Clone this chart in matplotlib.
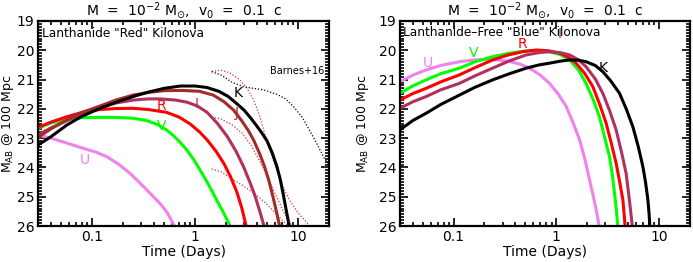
import matplotlib
matplotlib.use("Agg")
import matplotlib.pyplot as plt
from matplotlib.ticker import MultipleLocator, LogLocator, NullFormatter

# band names and colours
bands = ['U', 'V', 'R', 'I', 'J', 'K']
band_colors = {'U': '#EE82EE', 'V': '#00FF00', 'R': '#FF0000',
               'I': '#B03060', 'J': '#A52A2A', 'K': '#000000'}

# Lanthanide "red" kilonova (days, AB mag at 100 Mpc)
red_t = {
    'U': [0.03, 0.04, 0.055, 0.083, 0.11, 0.139, 0.18, 0.234, 0.29, 0.366, 0.45, 0.53, 0.58, 0.63],
    'V': [0.03, 0.04, 0.057, 0.08, 0.11, 0.17, 0.25, 0.34, 0.43, 0.53, 0.62, 0.72, 0.83, 0.97,
          1.12, 1.3, 1.5, 1.7, 1.9, 2.05, 2.19],
    'R': [0.03, 0.04, 0.057, 0.08, 0.12, 0.17, 0.25, 0.35, 0.53, 0.7, 0.9, 1.1, 1.31, 1.6, 1.9,
          2.2, 2.55, 2.85, 3.13],
    'I': [0.03, 0.04, 0.057, 0.08, 0.12, 0.17, 0.25, 0.35, 0.46, 0.65, 0.83, 1.05, 1.31, 1.65,
          2.06, 2.5, 2.95, 3.4, 3.8, 4.25, 4.67],
    'J': [0.03, 0.04, 0.057, 0.08, 0.12, 0.17, 0.25, 0.35, 0.5, 0.75, 1.1, 1.5, 1.9, 2.36, 2.8,
          3.3, 3.69, 4.2, 4.7, 5.2, 5.7, 6.2, 6.6],
    'K': [0.03, 0.04, 0.057, 0.08, 0.12, 0.17, 0.25, 0.35, 0.5, 0.72, 1.0, 1.3, 1.7, 2.1, 2.5,
          3.0, 3.5, 4.0, 4.5, 5.0, 5.6, 6.2, 6.7, 7.2, 7.7, 8.2],
}
red_mag = {
    'U': [22.89, 23.0, 23.15, 23.35, 23.48, 23.63, 23.88, 24.2, 24.52, 24.88, 25.2, 25.51, 25.75, 26.0],
    'V': [22.66, 22.48, 22.36, 22.3, 22.29, 22.29, 22.32, 22.4, 22.53, 22.72, 22.92, 23.15, 23.4, 23.73,
          24.09, 24.48, 24.88, 25.25, 25.56, 25.8, 26.0],
    'R': [22.63, 22.45, 22.27, 22.12, 22.02, 21.99, 21.98, 22.02, 22.12, 22.28, 22.52, 22.78, 23.06,
          23.45, 23.86, 24.3, 24.85, 25.4, 26.0],
    'I': [22.88, 22.65, 22.4, 22.15, 21.95, 21.8, 21.7, 21.66, 21.66, 21.7, 21.77, 21.9, 22.12, 22.5,
          22.95, 23.45, 23.97, 24.5, 24.95, 25.5, 26.0],
    'J': [22.97, 22.68, 22.38, 22.12, 21.9, 21.7, 21.53, 21.44, 21.38, 21.37, 21.4, 21.53, 21.75,
          22.04, 22.38, 22.75, 23.06, 23.5, 23.95, 24.45, 25.0, 25.55, 26.0],
    'K': [23.23, 22.95, 22.55, 22.25, 21.98, 21.78, 21.58, 21.43, 21.3, 21.22, 21.22, 21.27, 21.4,
          21.58, 21.8, 22.05, 22.33, 22.6, 22.85, 23.1, 23.5, 23.95, 24.4, 24.95, 25.5, 26.0],
}
red_label_pos = {'U': (0.086, 23.74), 'V': (0.47, 22.58), 'R': (0.47, 21.9),
                 'I': (1.04, 21.84), 'J': (2.55, 22.15), 'K': (2.63, 21.47)}

# Barnes+16 comparison curves (dotted)
barnes_red_t = [
    [1.45, 1.8, 2.2, 2.7, 3.2, 3.7, 4.2, 4.7, 5.3, 6.0, 7.0, 8.2, 10, 13],
    [1.45, 1.8, 2.3, 2.9, 3.5, 4.2, 5.0, 6.0, 7.2, 8.6],
    [1.45, 1.8, 2.3, 3.0, 3.8, 4.8, 5.8, 7.0, 8.2],
]
barnes_red_mag = [
    [20.72, 20.68, 20.78, 21.0, 21.3, 21.7, 22.2, 22.8, 23.4, 23.95, 24.6, 25.1, 25.55, 26.0],
    [22.27, 22.35, 22.55, 22.85, 23.25, 23.75, 24.3, 24.9, 25.5, 26.0],
    [24.05, 24.15, 24.4, 24.65, 24.9, 25.2, 25.5, 25.8, 26.0],
]
barnes_k_t = [1.45, 1.8, 2.3, 3.0, 3.7, 4.6, 6.2, 7.5, 9.0, 11, 13, 15.5, 18, 20]
barnes_k_mag = [20.73, 20.85, 21.1, 21.25, 21.3, 21.35, 21.5, 21.65, 21.92, 22.3, 22.75, 23.25, 23.7, 23.9]

# Lanthanide-free "blue" kilonova
blue_bands = ['U', 'V', 'R', 'I', 'K']
blue_t = {
    'U': [0.03, 0.04, 0.054, 0.075, 0.114, 0.16, 0.2, 0.27, 0.35, 0.45, 0.55, 0.7, 0.86, 1.05,
          1.25, 1.45, 1.69, 1.9, 2.11, 2.3, 2.45, 2.62],
    'V': [0.03, 0.04, 0.054, 0.075, 0.114, 0.16, 0.24, 0.35, 0.51, 0.68, 0.86, 1.1, 1.35, 1.65,
          1.95, 2.3, 2.63, 2.95, 3.3, 3.5, 3.69, 3.85, 3.97],
    'R': [0.03, 0.04, 0.054, 0.075, 0.114, 0.16, 0.24, 0.34, 0.47, 0.64, 0.85, 1.08, 1.3, 1.56,
          1.9, 2.27, 2.65, 3.06, 3.45, 3.83, 4.15, 4.45, 4.57, 4.68],
    'I': [0.03, 0.04, 0.054, 0.075, 0.114, 0.16, 0.24, 0.35, 0.51, 0.68, 0.86, 1.1, 1.35, 1.65,
          1.95, 2.4, 2.84, 3.3, 3.83, 4.3, 4.79, 5.15, 5.5],
    'K': [0.03, 0.04, 0.054, 0.075, 0.114, 0.16, 0.24, 0.35, 0.51, 0.68, 0.86, 1.1, 1.35, 1.65,
          1.95, 2.4, 2.84, 3.4, 4.13, 4.8, 5.57, 6.3, 6.97, 7.4, 7.8, 8.0, 8.15],
}
blue_mag = {
    'U': [21.07, 20.85, 20.67, 20.52, 20.39, 20.33, 20.31, 20.33, 20.38, 20.48, 20.61, 20.85, 21.13,
          21.5, 21.92, 22.45, 23.06, 23.72, 24.43, 25.0, 25.45, 26.0],
    'V': [21.47, 21.22, 21.01, 20.8, 20.61, 20.4, 20.22, 20.1, 20.02, 20.02, 20.05, 20.15, 20.33,
          20.68, 21.13, 21.7, 22.27, 22.95, 23.63, 24.2, 24.88, 25.45, 26.0],
    'R': [21.70, 21.48, 21.30, 21.08, 20.84, 20.6, 20.33, 20.16, 20.05, 19.99, 20.02, 20.10, 20.23,
          20.44, 20.8, 21.24, 21.85, 22.49, 23.2, 23.86, 24.5, 25.1, 25.55, 26.0],
    'I': [21.98, 21.76, 21.58, 21.35, 21.13, 20.88, 20.61, 20.36, 20.16, 20.08, 20.05, 20.08, 20.16,
          20.33, 20.56, 20.98, 21.47, 22.05, 22.72, 23.45, 24.2, 25.1, 26.0],
    'K': [22.72, 22.4, 22.15, 21.85, 21.53, 21.27, 21.01, 20.8, 20.61, 20.5, 20.44, 20.37, 20.33,
          20.34, 20.39, 20.52, 20.73, 21.05, 21.47, 22.0, 22.61, 23.3, 23.97, 24.5, 25.1, 25.55, 26.0],
}
blue_label_pos = {'U': (0.056, 20.42), 'V': (0.157, 20.1), 'R': (0.47, 19.8),
                  'I': (1.08, 19.45), 'K': (2.84, 20.61)}

title = r'M  =  10$^{-2}$ M$_{\odot}$,  v$_0$  =  0.1  c'


def style_axes(ax, ylab_x):
    ax.set_xscale('log')
    ax.set_xlim(0.03, 20)
    ax.set_ylim(26, 19)
    ax.set_xticks([0.1, 1, 10])
    ax.set_xticklabels(['0.1', '1', '10'])
    ax.xaxis.set_minor_locator(LogLocator(base=10, subs=range(2, 10)))
    ax.xaxis.set_minor_formatter(NullFormatter())
    ax.yaxis.set_major_locator(MultipleLocator(1))
    ax.yaxis.set_minor_locator(MultipleLocator(0.1))
    ax.tick_params(which='both', direction='in', top=True, right=True,
                   labelsize=10, width=1.2, pad=2.5)
    ax.tick_params(which='major', length=6)
    ax.tick_params(which='minor', length=3)
    for s in ax.spines.values():
        s.set_linewidth(1.6)
    ax.set_xlabel('Time (Days)', fontsize=10, labelpad=1)
    ax.set_ylabel(r'M$_{\rm AB}$ @ 100 Mpc', fontsize=9)
    ax.yaxis.set_label_coords(ylab_x, 0.5)
    ax.set_title(title, fontsize=10, pad=3)


fig = plt.figure(figsize=(6.93, 2.62), dpi=100)
ax1 = fig.add_axes([0.055, 0.137, 0.42, 0.783])
ax2 = fig.add_axes([0.577, 0.137, 0.4185, 0.783])

# left: red kilonova
for bt, bm in zip(barnes_red_t, barnes_red_mag):
    ax1.plot(bt, bm, color='#E03030', lw=0.9, ls=(0, (1, 1.5)))
ax1.plot(barnes_k_t, barnes_k_mag, color='black', lw=0.9, ls=(0, (1, 1.5)))
for b in bands:
    ax1.plot(red_t[b], red_mag[b], color=band_colors[b], lw=2.2)
    ax1.text(*red_label_pos[b], b, color=band_colors[b], fontsize=10,
             ha='center', va='center')
ax1.text(0.033, 19.42, 'Lanthanide "Red" Kilonova', fontsize=8.7, va='center')
ax1.text(9.7, 20.72, 'Barnes+16', fontsize=7, ha='center', va='center')
style_axes(ax1, -0.075)

# right: blue kilonova
for b in blue_bands:
    ax2.plot(blue_t[b], blue_mag[b], color=band_colors[b], lw=2.2)
    ax2.text(*blue_label_pos[b], b, color=band_colors[b], fontsize=10,
             ha='center', va='center')
ax2.text(0.032, 19.4, 'Lanthanide\u2013Free "Blue" Kilonova', fontsize=8.7, va='center')
style_axes(ax2, -0.1)

fig.savefig('out.png', dpi=100)
